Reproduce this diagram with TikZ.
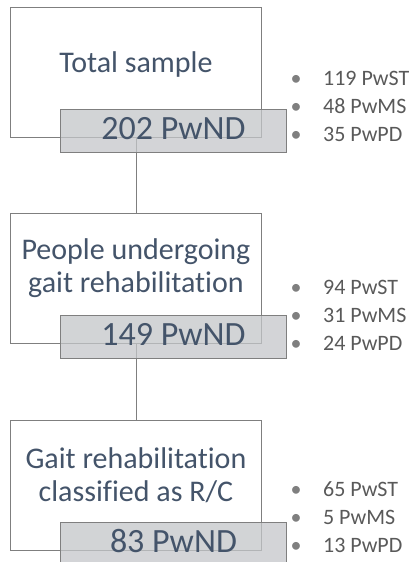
\documentclass[tikz,border=0pt]{standalone}
\usepackage{fontspec}
\setmainfont{Carlito}[Ligatures=NoCommon]
\usetikzlibrary{positioning, calc}
\definecolor{txtblue}{HTML}{44546A}
\definecolor{listgray}{HTML}{595959}
\definecolor{edgegray}{HTML}{7F7F7F}
\definecolor{numfill}{HTML}{C4C6C9}
\newcommand{\pbul}[1]{\makebox[32.5pt][l]{\textcolor{edgegray}{\textbullet}}#1}

\begin{document}
\begin{tikzpicture}[
    node distance=75.5pt,
    stage/.style={draw=edgegray, line width=0.9pt, fill=white, minimum width=251pt, minimum height=130pt, inner sep=0pt},
    stagetxt/.style={align=center, text=txtblue, font=\fontsize{30}{33}\selectfont},
    num/.style={draw=edgegray, line width=0.9pt, fill=numfill, fill opacity=0.75, text opacity=1, text=txtblue,
      minimum width=226pt, minimum height=43pt, inner sep=0pt, text depth=5pt, anchor=north west, font=\fontsize{34}{40}\selectfont},
    sub/.style={align=left, text=listgray, inner sep=0pt, anchor=west, font=\fontsize{22}{28}\selectfont},
    link/.style={draw=edgegray, line width=0.9pt}]
  \clip (0,0) rectangle (415pt,-562pt);
  % white stage boxes
  \node[stage, anchor=north west] (tot) at (10pt,-7pt) {};
  \node[stage, below=of tot] (gait) {};
  \node[stage, below=of gait] (rc) {};
  \draw[link] (tot) -- (gait);
  \draw[link] (gait) -- (rc);
  % stage titles
  \node[stagetxt] (totlbl) at ($(tot.north)+(0,-58pt)$) {Total sample};
  \node[stagetxt] (gaitlbl) at ($(gait.north)+(0,-55pt)$) {People undergoing\\gait rehabilitation};
  \node[stagetxt] (rclbl) at ($(rc.north)+(0,-55pt)$) {Gait rehabilitation\\classified as R/C};
  % counts
  \node[num] (totn) at ($(tot.south west)+(50pt,29pt)$) {202 PwND};
  \node[num] (gaitn) at ($(gait.south west)+(50pt,29pt)$) {149 PwND};
  \node[num] (rcn) at ($(rc.south west)+(50pt,29pt)$) {83 PwND};
  % breakdown by disease
  \node[sub] (totsub) at ($(tot.north east)+(28.5pt,-99pt)$) {\pbul{119 PwST}\\\pbul{48 PwMS}\\\pbul{35 PwPD}};
  \node[sub] (gaitsub) at ($(gait.north east)+(28.5pt,-102pt)$) {\pbul{94 PwST}\\\pbul{31 PwMS}\\\pbul{24 PwPD}};
  \node[sub] (rcsub) at ($(rc.north east)+(28.5pt,-97pt)$) {\pbul{65 PwST}\\\pbul{5 PwMS}\\\pbul{13 PwPD}};
\end{tikzpicture}
\end{document}
